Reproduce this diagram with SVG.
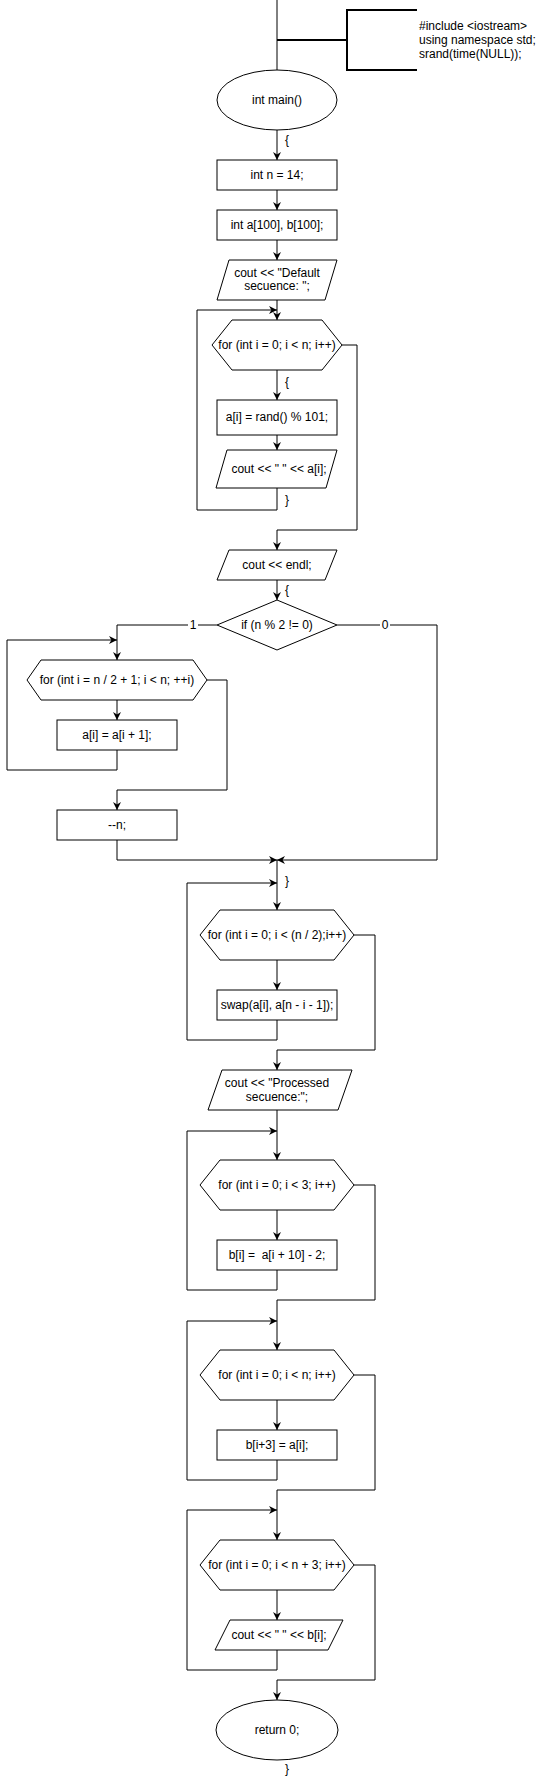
<svg xmlns="http://www.w3.org/2000/svg" width="537" height="1781" viewBox="0 0 537 1781">
<style>
.s{fill:#fff;stroke:#000;stroke-width:1}
.t{font-family:"Liberation Sans",Arial,sans-serif;font-size:12px;fill:#000;text-anchor:middle;white-space:pre}
.l{text-anchor:start}
.c{fill:none;stroke:#000;stroke-width:1}
.a{marker-end:url(#arr)}
.lb{fill:#fff;stroke:none}
</style>
<defs>
<marker id="arr" viewBox="0 0 10 10" refX="10" refY="5" markerWidth="8" markerHeight="8" markerUnits="userSpaceOnUse" orient="auto">
<path d="M0,0 L10,5 L0,10 L3,5 z" fill="#000"/>
</marker>
</defs>
<rect width="537" height="1781" fill="#fff"/>
<g id="connectors">
<path class="c" d="M277,0 V70"/>
<path class="c" style="stroke-width:2" d="M277,40 H347"/>
<path class="c a" d="M277,130 V160"/>
<path class="c a" d="M277,190 V210"/>
<path class="c a" d="M277,240 V260"/>
<path class="c a" d="M277,300 V320"/>
<path class="c a" d="M277,370 V400"/>
<path class="c a" d="M277,435 V450"/>
<path class="c a" d="M277,488 V510 H197 V310 H277"/>
<path class="c a" d="M342,345 H357 V530 H277 V550"/>
<path class="c a" d="M277,580 V600"/>
<path class="c a" d="M217,625 H117 V660"/>
<path class="c a" d="M117,700 V720"/>
<path class="c a" d="M117,750 V770 H7 V640 H117"/>
<path class="c a" d="M207,680 H227 V790 H117 V810"/>
<path class="c a" d="M117,840 V860 H277"/>
<path class="c a" d="M337,625 H437 V860 H277"/>
<path class="c a" d="M277,860 V910"/>
<path class="c a" d="M277,960 V990"/>
<path class="c a" d="M277,1020 V1040 H187 V883 H277"/>
<path class="c a" d="M354,935 H375 V1050 H277 V1070"/>
<path class="c a" d="M277,1110 V1160"/>
<path class="c a" d="M277,1210 V1240"/>
<path class="c a" d="M277,1270 V1290 H187 V1131 H277"/>
<path class="c a" d="M354,1185 H375 V1300 H277 V1350"/>
<path class="c a" d="M277,1400 V1430"/>
<path class="c a" d="M277,1460 V1480 H187 V1321 H277"/>
<path class="c a" d="M354,1375 H375 V1490 H277 V1540"/>
<path class="c a" d="M277,1590 V1620"/>
<path class="c a" d="M277,1650 V1670 H187 V1510 H277"/>
<path class="c a" d="M354,1565 H375 V1680 H277 V1700"/>
<rect class="lb" x="188" y="618" width="10" height="14"/>
<text class="t" x="193" y="629">1</text>
<rect class="lb" x="380" y="618" width="10" height="14"/>
<text class="t" x="385" y="629">0</text>
<text class="t" x="287" y="144">{</text>
<text class="t" x="287" y="386">{</text>
<text class="t" x="287" y="504">}</text>
<text class="t" x="287" y="594">{</text>
<text class="t" x="287" y="885">}</text>
<text class="t" x="287" y="1773">}</text>
</g>
<g id="note">
<path class="c" style="stroke-width:2" d="M417,10 H347 V70 H417"/>
<text class="t l" x="419" y="30">#include &lt;iostream&gt;</text>
<text class="t l" x="419" y="44">using namespace std;</text>
<text class="t l" x="419" y="58">srand(time(NULL));</text>
</g>
<g id="main">
<ellipse class="s" cx="277" cy="100" rx="60" ry="30"/>
<text class="t" x="277" y="104">int main()</text>
</g>
<g id="n14">
<rect class="s" x="217" y="160" width="120" height="30"/>
<text class="t" x="277" y="179">int n = 14;</text>
</g>
<g id="arrays">
<rect class="s" x="217" y="210" width="120" height="30"/>
<text class="t" x="277" y="229">int a[100], b[100];</text>
</g>
<g id="outDefault">
<path class="s" d="M229,260 H337 L325,300 H217 Z"/>
<text class="t" x="277" y="277">cout &lt;&lt; "Default</text>
<text class="t" x="277" y="290">secuence: ";</text>
</g>
<g id="for1">
<path class="s" d="M232,320 H322 L342,345 L322,370 H232 L212,345 Z"/>
<text class="t" x="277" y="349">for (int i = 0; i &lt; n; i++)</text>
</g>
<g id="rand">
<rect class="s" x="217" y="400" width="120" height="35"/>
<text class="t" x="277" y="421">a[i] = rand() % 101;</text>
</g>
<g id="outA">
<path class="s" d="M227,450 H337 L326,488 H216 Z"/>
<text class="t" x="279" y="473">cout &lt;&lt; " " &lt;&lt; a[i];</text>
</g>
<g id="endl">
<path class="s" d="M229,550 H337 L325,580 H217 Z"/>
<text class="t" x="277" y="569">cout &lt;&lt; endl;</text>
</g>
<g id="ifOdd">
<path class="s" d="M277,600 L337,625 L277,650 L217,625 Z"/>
<text class="t" x="277" y="629">if (n % 2 != 0)</text>
</g>
<g id="for2">
<path class="s" d="M41,660 H193 L207,680 L193,700 H41 L27,680 Z"/>
<text class="t" x="117" y="684">for (int i = n / 2 + 1; i &lt; n; ++i)</text>
</g>
<g id="shift">
<rect class="s" x="57" y="720" width="120" height="30"/>
<text class="t" x="117" y="739">a[i] = a[i + 1];</text>
</g>
<g id="decN">
<rect class="s" x="57" y="810" width="120" height="30"/>
<text class="t" x="117" y="829">--n;</text>
</g>
<g id="for3">
<path class="s" d="M220,910 H334 L354,935 L334,960 H220 L200,935 Z"/>
<text class="t" x="277" y="939">for (int i = 0; i &lt; (n / 2);i++)</text>
</g>
<g id="swap">
<rect class="s" x="217" y="990" width="120" height="30"/>
<text class="t" x="277" y="1009">swap(a[i], a[n - i - 1]);</text>
</g>
<g id="outProcessed">
<path class="s" d="M222,1070 H352 L338,1110 H208 Z"/>
<text class="t" x="277" y="1087">cout &lt;&lt; "Processed</text>
<text class="t" x="277" y="1101">secuence:";</text>
</g>
<g id="for4">
<path class="s" d="M220,1160 H334 L354,1185 L334,1210 H220 L200,1185 Z"/>
<text class="t" x="277" y="1189">for (int i = 0; i &lt; 3; i++)</text>
</g>
<g id="bFirst">
<rect class="s" x="217" y="1240" width="120" height="30"/>
<text class="t" x="277" y="1259">b[i] =  a[i + 10] - 2;</text>
</g>
<g id="for5">
<path class="s" d="M220,1350 H334 L354,1375 L334,1400 H220 L200,1375 Z"/>
<text class="t" x="277" y="1379">for (int i = 0; i &lt; n; i++)</text>
</g>
<g id="bRest">
<rect class="s" x="217" y="1430" width="120" height="30"/>
<text class="t" x="277" y="1449">b[i+3] = a[i];</text>
</g>
<g id="for6">
<path class="s" d="M220,1540 H334 L354,1565 L334,1590 H220 L200,1565 Z"/>
<text class="t" x="277" y="1569">for (int i = 0; i &lt; n + 3; i++)</text>
</g>
<g id="outB">
<path class="s" d="M230,1620 H343 L328,1650 H215 Z"/>
<text class="t" x="279" y="1639">cout &lt;&lt; " " &lt;&lt; b[i];</text>
</g>
<g id="ret">
<ellipse class="s" cx="277" cy="1730" rx="61" ry="30"/>
<text class="t" x="277" y="1734">return 0;</text>
</g>
</svg>
